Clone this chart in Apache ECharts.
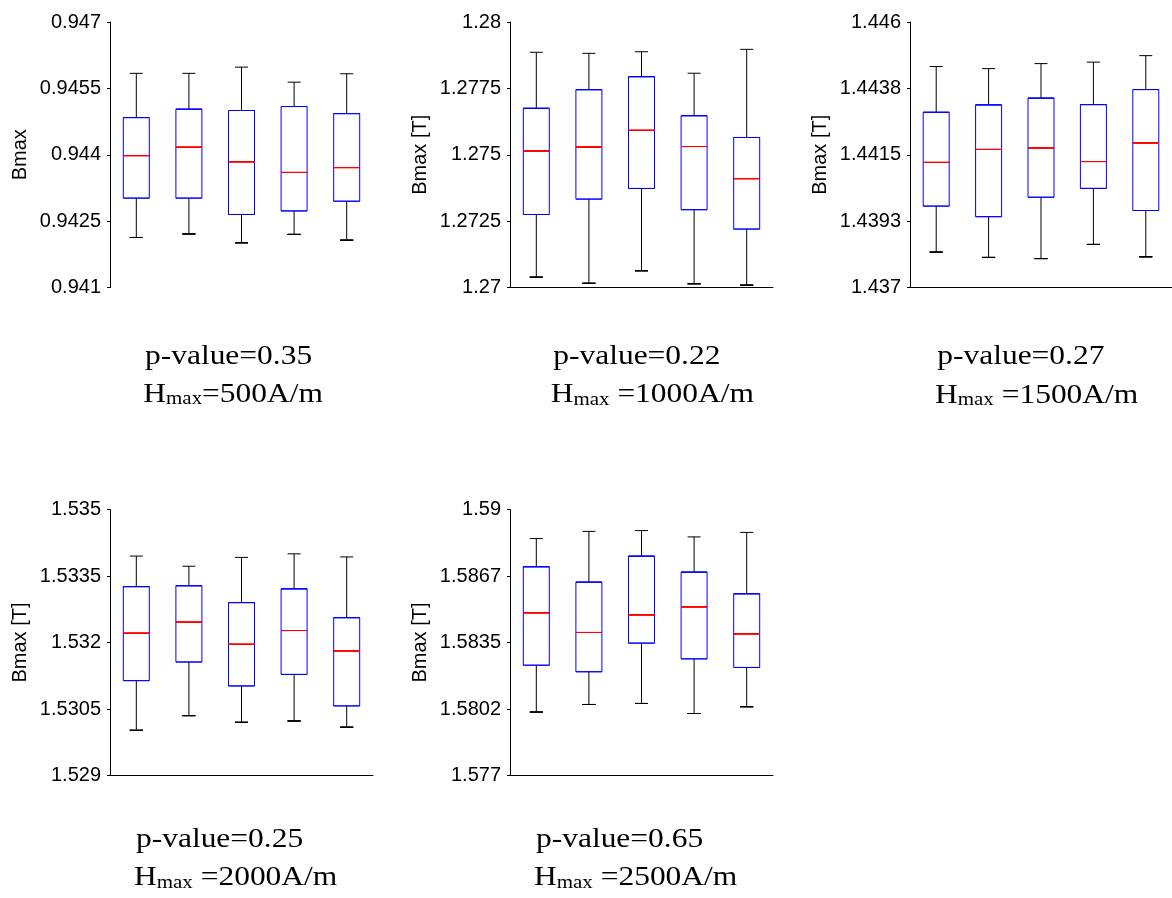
<!DOCTYPE html>
<html>
<head>
<meta charset="utf-8">
<script src="https://cdn.jsdelivr.net/npm/echarts@6/dist/echarts.min.js"></script>
<style>
html,body{margin:0;padding:0;background:#fff;}
#chart{width:1172px;height:898px;}
</style>
</head>
<body>
<div id="chart"></div>
<script>
// ---- data: each row = [lower whisker, Q1, median, Q3, upper whisker] ----
const categories = ['1', '2', '3', '4', '5'];

const box500 = [
  [0.94213, 0.94302, 0.94398, 0.94484, 0.94584],
  [0.94221, 0.94302, 0.94417, 0.94503, 0.94584],
  [0.94201, 0.94265, 0.94384, 0.94500, 0.94598],
  [0.94220, 0.94273, 0.94360, 0.94509, 0.94564],
  [0.94207, 0.94295, 0.94371, 0.94493, 0.94583]
];
const box1000 = [
  [1.27039, 1.27275, 1.27514, 1.27675, 1.27886],
  [1.27016, 1.27333, 1.27529, 1.27745, 1.27882],
  [1.27063, 1.27373, 1.27592, 1.27794, 1.27888],
  [1.27014, 1.27293, 1.27531, 1.27647, 1.27807],
  [1.27009, 1.27220, 1.27410, 1.27565, 1.27897]
];
const box1500 = [
  [1.43820, 1.43976, 1.44124, 1.44294, 1.44449],
  [1.43802, 1.43940, 1.44168, 1.44319, 1.44442],
  [1.43798, 1.44006, 1.44173, 1.44342, 1.44459],
  [1.43846, 1.44036, 1.44127, 1.44320, 1.44464],
  [1.43804, 1.43961, 1.44190, 1.44371, 1.44486]
];
const box2000 = [
  [1.53002, 1.53114, 1.53221, 1.53326, 1.53395],
  [1.53035, 1.53156, 1.53246, 1.53328, 1.53372],
  [1.53020, 1.53102, 1.53196, 1.53290, 1.53392],
  [1.53023, 1.53128, 1.53227, 1.53321, 1.53400],
  [1.53009, 1.53057, 1.53181, 1.53256, 1.53393]
];
const box2500 = [
  [1.58010, 1.58239, 1.58495, 1.58720, 1.58858],
  [1.58047, 1.58207, 1.58399, 1.58645, 1.58893],
  [1.58052, 1.58347, 1.58485, 1.58772, 1.58897],
  [1.58003, 1.58270, 1.58524, 1.58694, 1.58866],
  [1.58036, 1.58228, 1.58392, 1.58588, 1.58888]
];

// ---- tick values and tick labels ----
const ticks500 = [0.941, 0.9425, 0.944, 0.9455, 0.947];
const labels500 = ['0.941', '0.9425', '0.944', '0.9455', '0.947'];
const ticks1000 = [1.27, 1.2725, 1.275, 1.2775, 1.28];
const labels1000 = ['1.27', '1.2725', '1.275', '1.2775', '1.28'];
const ticks1500 = [1.437, 1.43925, 1.4415, 1.44375, 1.446];
const labels1500 = ['1.437', '1.4393', '1.4415', '1.4438', '1.446'];
const ticks2000 = [1.529, 1.5305, 1.532, 1.5335, 1.535];
const labels2000 = ['1.529', '1.5305', '1.532', '1.5335', '1.535'];
const ticks2500 = [1.577, 1.58025, 1.5835, 1.58675, 1.59];
const labels2500 = ['1.577', '1.5802', '1.5835', '1.5867', '1.59'];

// ---- annotation texts ----
const pValues = ['p-value=0.35', 'p-value=0.22', 'p-value=0.27', 'p-value=0.25', 'p-value=0.65'];
const hTexts = ['=500A/m', ' =1000A/m', ' =1500A/m', ' =2000A/m', ' =2500A/m'];
const yNames = ['Bmax', 'Bmax [T]', 'Bmax [T]', 'Bmax [T]', 'Bmax [T]'];

// ---- layout ----
const panels = [
  {box: box500,  ticks: ticks500,  labels: labels500,  left: 110, top: 22,    h: 265.5, showX: false, tx: [145, 143.3], ty: [365.7, 402.7]},
  {box: box1000, ticks: ticks1000, labels: labels1000, left: 510, top: 22,    h: 265.5, showX: true,  tx: [553.3, 550.7], ty: [366, 403]},
  {box: box1500, ticks: ticks1500, labels: labels1500, left: 910, top: 22,    h: 265.5, showX: true,  tx: [937.3, 935], ty: [366, 403.5]},
  {box: box2000, ticks: ticks2000, labels: labels2000, left: 110, top: 509.5, h: 266,   showX: true,  tx: [136, 134], ty: [849.3, 886]},
  {box: box2500, ticks: ticks2500, labels: labels2500, left: 510, top: 509.5, h: 266,   showX: true,  tx: [536, 534], ty: [849.3, 886]}
];

const FONT_SANS = '"Liberation Sans", Arial, sans-serif';
const FONT_SERIF = '"Liberation Serif", "Times New Roman", serif';
const SERIF_SIZE = 27;
const SCALE_X = 1.165;

const grid = [], xAxis = [], yAxis = [], series = [], graphic = [];

panels.forEach((p, i) => {
  grid.push({left: p.left, top: p.top, width: 263, height: p.h, containLabel: false});
  // three overlaid category axes per grid so the three layers are not grouped side by side
  for (let k = 0; k < 3; k++) {
    xAxis.push({
      type: 'category', gridIndex: i, data: categories, boundaryGap: true,
      axisLine: {show: k === 0 && p.showX, lineStyle: {color: '#000', width: 1}},
      axisTick: {show: false}, axisLabel: {show: false}, splitLine: {show: false}
    });
  }
  const ticks = p.ticks, labels = p.labels;
  yAxis.push({
    type: 'value', gridIndex: i,
    min: ticks[0], max: ticks[ticks.length - 1],
    name: yNames[i], nameLocation: 'middle', nameGap: 80, nameRotate: 90,
    nameTextStyle: {fontFamily: FONT_SANS, fontSize: 20, color: '#000'},
    axisLine: {show: true, lineStyle: {color: '#000', width: 1}},
    axisTick: {show: true, inside: false, length: 3, customValues: ticks, lineStyle: {color: '#000'}},
    axisLabel: {
      show: true, customValues: ticks, margin: 9,
      fontFamily: FONT_SANS, fontSize: 20, color: '#000',
      formatter: (v) => {
        let best = 0, bd = Infinity;
        ticks.forEach((t, k) => { const d = Math.abs(t - v); if (d < bd) { bd = d; best = k; } });
        return labels[best];
      }
    },
    splitLine: {show: false}
  });
  // whiskers (black, narrow caps)
  series.push({
    type: 'boxplot', xAxisIndex: 3 * i, yAxisIndex: i, z: 2,
    boxWidth: [13, 13], silent: true,
    itemStyle: {color: 'none', borderColor: '#000', borderWidth: 1},
    emphasis: {disabled: true},
    data: p.box.map(r => [r[0], r[0], r[0], r[0], r[4]])
  });
  // boxes (blue, white fill hides whisker inside)
  series.push({
    type: 'boxplot', xAxisIndex: 3 * i + 1, yAxisIndex: i, z: 3,
    boxWidth: [26, 26], silent: true,
    itemStyle: {color: '#ffffff', borderColor: '#0000ff', borderWidth: 1},
    emphasis: {disabled: true},
    data: p.box.map(r => [r[1], r[1], r[3], r[3], r[3]])
  });
  // medians (red)
  series.push({
    type: 'boxplot', xAxisIndex: 3 * i + 2, yAxisIndex: i, z: 4,
    boxWidth: [26, 26], silent: true,
    itemStyle: {color: 'none', borderColor: '#ff0000', borderWidth: 1},
    emphasis: {disabled: true},
    data: p.box.map(r => [r[2], r[2], r[2], r[2], r[2]])
  });
  // annotation texts
  graphic.push({
    type: 'text', x: p.tx[0], y: p.ty[0] - 0.3375 * SERIF_SIZE, scaleX: SCALE_X,
    style: {text: pValues[i], font: SERIF_SIZE + 'px ' + FONT_SERIF, fill: '#000', align: 'left', verticalAlign: 'middle'}
  });
  graphic.push({
    type: 'text', x: p.tx[1], y: p.ty[1] - 15 - 0.3375 * SERIF_SIZE, scaleX: SCALE_X,
    style: {
      text: '{m|H}{s|max}{m|' + hTexts[i] + '}',
      align: 'left', verticalAlign: 'top', fill: '#000',
      rich: {
        m: {fontFamily: FONT_SERIF, fontSize: SERIF_SIZE, lineHeight: 30, verticalAlign: 'bottom', fill: '#000'},
        s: {fontFamily: FONT_SERIF, fontSize: 18, lineHeight: 21, verticalAlign: 'bottom', fill: '#000'}
      }
    }
  });
});

const chart = echarts.init(document.getElementById('chart'), null, {renderer: 'canvas'});
chart.setOption({
  animation: false,
  backgroundColor: '#ffffff',
  grid, xAxis, yAxis, series, graphic
});
</script>
</body>
</html>
